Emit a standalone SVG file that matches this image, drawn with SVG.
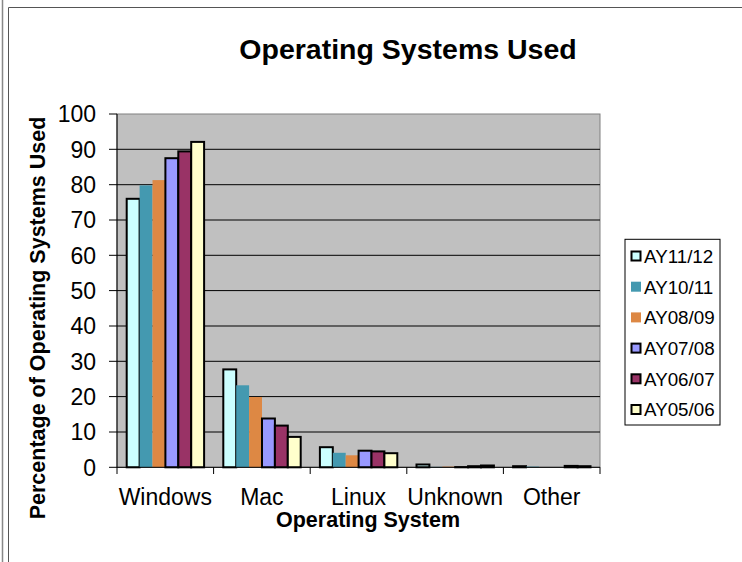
<svg xmlns="http://www.w3.org/2000/svg" width="742" height="562" viewBox="0 0 742 562">
<style>
.t{font-family:"Liberation Sans",Arial,sans-serif;fill:#000}
.title{font-size:28.5px;font-weight:bold}
.ax{font-size:21.5px;font-weight:bold}
.tick{font-size:23px}
.leg{font-size:18.8px}
.grid{stroke:#000;stroke-width:1}
.s1{fill:#CCFFFF;stroke:#000;stroke-width:2}
.s2{fill:#4499B0}
.s3{fill:#DD8844}
.s4{fill:#9999FF;stroke:#000;stroke-width:2}
.s5{fill:#993366;stroke:#000;stroke-width:2}
.s6{fill:#FFFFCC;stroke:#000;stroke-width:2}
</style>
<rect width="742" height="562" fill="#fff"/>
<g id="frame" fill="none">
<line x1="2.5" y1="0" x2="2.5" y2="562" stroke="#888" stroke-width="1.5"/>
<line x1="8.5" y1="7.5" x2="8.5" y2="562" stroke="#555" stroke-width="1"/>
<line x1="8.5" y1="7.5" x2="742" y2="7.5" stroke="#555" stroke-width="1"/>
</g>
<text class="t title" x="408" y="58.5" text-anchor="middle">Operating Systems Used</text>
<g id="plot">
<rect x="117" y="114" width="483" height="353.3" fill="#C0C0C0" stroke="#808080" stroke-width="1"/>
<g class="grid">
<line x1="117" y1="432" x2="600" y2="432"/>
<line x1="117" y1="396.6" x2="600" y2="396.6"/>
<line x1="117" y1="361.3" x2="600" y2="361.3"/>
<line x1="117" y1="326" x2="600" y2="326"/>
<line x1="117" y1="290.6" x2="600" y2="290.6"/>
<line x1="117" y1="255.3" x2="600" y2="255.3"/>
<line x1="117" y1="220" x2="600" y2="220"/>
<line x1="117" y1="184.7" x2="600" y2="184.7"/>
<line x1="117" y1="149.3" x2="600" y2="149.3"/>
</g>
</g>
<g id="bars">
<rect class="s1" x="126.7" y="198.8" width="12.9" height="268.5"/>
<rect class="s2" x="139.6" y="185.4" width="12.9" height="281.9"/>
<rect class="s3" x="152.5" y="180.1" width="12.9" height="287.2"/>
<rect class="s4" x="165.4" y="158.2" width="12.9" height="309.1"/>
<rect class="s5" x="178.3" y="151.4" width="12.9" height="315.9"/>
<rect class="s6" x="191.2" y="141.9" width="12.9" height="325.4"/>
<rect class="s1" x="223.3" y="369.4" width="12.9" height="97.9"/>
<rect class="s2" x="236.2" y="385.3" width="12.9" height="82"/>
<rect class="s3" x="249.1" y="397" width="12.9" height="70.3"/>
<rect class="s4" x="262" y="418.5" width="12.9" height="48.8"/>
<rect class="s5" x="274.9" y="425.6" width="12.9" height="41.7"/>
<rect class="s6" x="287.8" y="436.9" width="12.9" height="30.4"/>
<rect class="s1" x="319.9" y="447.2" width="12.9" height="20.1"/>
<rect class="s2" x="332.8" y="452.8" width="12.9" height="14.5"/>
<rect class="s3" x="345.7" y="455.3" width="12.9" height="12"/>
<rect class="s4" x="358.6" y="450.7" width="12.9" height="16.6"/>
<rect class="s5" x="371.5" y="451.4" width="12.9" height="15.9"/>
<rect class="s6" x="384.4" y="453.2" width="12.9" height="14.1"/>
<rect class="s1" x="416.5" y="464.5" width="12.9" height="2.8"/>
<rect class="s2" x="429.4" y="466.9" width="12.9" height="0.4"/>
<rect class="s3" x="442.3" y="466.6" width="12.9" height="0.7"/>
<rect class="s4" x="455.2" y="467.1" width="12.9" height="0.2"/>
<rect class="s5" x="468.1" y="466.2" width="12.9" height="1.1"/>
<rect class="s6" x="481" y="465.5" width="12.9" height="1.8"/>
<rect class="s1" x="513.1" y="466.2" width="12.9" height="1.1"/>
<rect class="s2" x="526" y="466.6" width="12.9" height="0.7"/>
<rect class="s5" x="564.7" y="465.9" width="12.9" height="1.4"/>
<rect class="s6" x="577.6" y="466.2" width="12.9" height="1.1"/>
</g>
<g id="axes" stroke="#000" stroke-width="1">
<line x1="117" y1="114" x2="117" y2="474"/>
<line x1="109" y1="467.3" x2="600" y2="467.3"/>
<line x1="109" y1="432" x2="117" y2="432"/>
<line x1="109" y1="396.6" x2="117" y2="396.6"/>
<line x1="109" y1="361.3" x2="117" y2="361.3"/>
<line x1="109" y1="326" x2="117" y2="326"/>
<line x1="109" y1="290.6" x2="117" y2="290.6"/>
<line x1="109" y1="255.3" x2="117" y2="255.3"/>
<line x1="109" y1="220" x2="117" y2="220"/>
<line x1="109" y1="184.7" x2="117" y2="184.7"/>
<line x1="109" y1="149.3" x2="117" y2="149.3"/>
<line x1="109" y1="114" x2="117" y2="114"/>
<line x1="213.6" y1="467.3" x2="213.6" y2="474"/>
<line x1="310.2" y1="467.3" x2="310.2" y2="474"/>
<line x1="406.8" y1="467.3" x2="406.8" y2="474"/>
<line x1="503.4" y1="467.3" x2="503.4" y2="474"/>
<line x1="600" y1="467.3" x2="600" y2="474"/>
</g>
<g id="ylabels" class="t tick" text-anchor="end">
<text x="96" y="475.5">0</text>
<text x="96" y="440.2">10</text>
<text x="96" y="404.8">20</text>
<text x="96" y="369.5">30</text>
<text x="96" y="334.2">40</text>
<text x="96" y="298.8">50</text>
<text x="96" y="263.5">60</text>
<text x="96" y="228.2">70</text>
<text x="96" y="192.9">80</text>
<text x="96" y="157.5">90</text>
<text x="96" y="122.2">100</text>
</g>
<g id="xlabels" class="t tick" text-anchor="middle">
<text x="165.3" y="505">Windows</text>
<text x="261.9" y="505">Mac</text>
<text x="358.5" y="505">Linux</text>
<text x="455.1" y="505">Unknown</text>
<text x="551.7" y="505">Other</text>
</g>
<text class="t ax" x="368" y="527" text-anchor="middle">Operating System</text>
<text class="t ax" transform="translate(45,318) rotate(-90)" text-anchor="middle">Percentage of Operating Systems Used</text>
<g id="legend">
<rect x="625" y="239.3" width="95" height="185.7" fill="#fff" stroke="#000" stroke-width="1"/>
<rect class="s1" x="631.5" y="251.5" width="9" height="9" stroke-width="1.5"/>
<rect class="s2" x="631" y="281.7" width="10" height="10"/>
<rect class="s3" x="631" y="312.4" width="10" height="10"/>
<rect class="s4" x="631.5" y="343.6" width="9" height="9" stroke-width="1.5"/>
<rect class="s5" x="631.5" y="374.3" width="9" height="9" stroke-width="1.5"/>
<rect class="s6" x="631.5" y="405" width="9" height="9" stroke-width="1.5"/>
<g class="t leg">
<text x="644" y="262.8">AY11/12</text>
<text x="644" y="293.5">AY10/11</text>
<text x="644" y="324.2">AY08/09</text>
<text x="644" y="354.9">AY07/08</text>
<text x="644" y="385.6">AY06/07</text>
<text x="644" y="416.3">AY05/06</text>
</g>
</g>
</svg>
